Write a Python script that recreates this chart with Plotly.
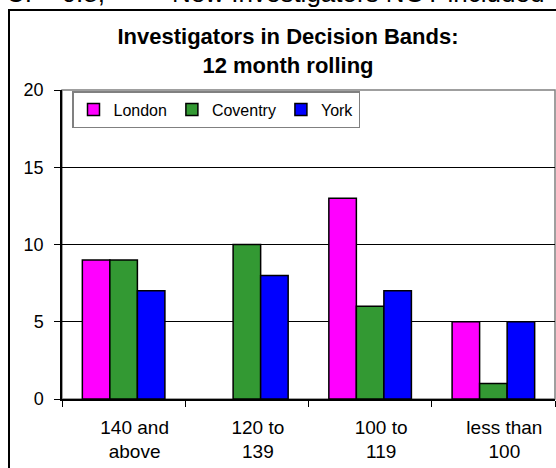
import plotly.graph_objects as go

categories = ["140 and<br>above", "120 to<br>139", "100 to<br>119", "less than<br>100"]
london = [9, None, 13, 5]
coventry = [9, 10, 6, 1]
york = [7, 8, 7, 5]

W, H = 556, 468
L, R, T, B = 62, 1, 90, 69
pw, ph = W - L - R, H - T - B

def px(x):
    return (x - L) / pw

def py(y):
    return (H - B - y) / ph

FONT = "Arial, Liberation Sans, sans-serif"

fig = go.Figure()
for name, vals, col in [("London", london, "#FF00FF"),
                        ("Coventry", coventry, "#339933"),
                        ("York", york, "#0000FF")]:
    fig.add_trace(go.Bar(x=categories, y=vals, name=name,
                         marker=dict(color=col, line=dict(color="black", width=1.5))))

fig.update_layout(
    width=W, height=H,
    margin=dict(l=L, r=R, t=T, b=B),
    paper_bgcolor="white", plot_bgcolor="white",
    barmode="group", bargap=0.33, bargroupgap=0,
    font=dict(family=FONT, color="black", size=16),
    title=dict(text="<b>Investigators in Decision Bands:<br>12 month rolling</b>",
               xref="container", x=288 / W, xanchor="center", y=1 - 44 / H, yanchor="top",
               font=dict(size=22, family=FONT)),
    legend=dict(orientation="h", x=px(72), y=py(91), xanchor="left", yanchor="top",
                bordercolor="#808080", borderwidth=1.5, bgcolor="white",
                font=dict(size=16, family=FONT), itemwidth=30),
    showlegend=True,
)
fig.update_xaxes(showline=True, linecolor="black", linewidth=1.5,
                 ticks="outside", ticklen=6, tickcolor="black", tickwidth=1,
                 tickson="boundaries", ticklabelshift=11, ticklabelstandoff=10,
                 tickfont=dict(size=19, family=FONT))
fig.update_yaxes(range=[0, 20], dtick=5, showline=True, linecolor="black", linewidth=1.5,
                 ticks="outside", ticklen=6, tickcolor="black", ticklabelstandoff=7,
                 showgrid=True, gridcolor="black", gridwidth=1,
                 tickfont=dict(size=18, family=FONT), zeroline=False)

# plot area border (gray) and outer frame
fig.add_shape(type="rect", xref="paper", yref="paper", x0=0, x1=1, y0=0, y1=1,
              line=dict(color="#808080", width=1.5), layer="below")
fig.add_shape(type="line", xref="paper", yref="paper", x0=px(9), x1=px(9), y0=py(10), y1=py(470),
              line=dict(color="black", width=2))
fig.add_shape(type="line", xref="paper", yref="paper", x0=px(8), x1=px(560), y0=py(10), y1=py(10),
              line=dict(color="black", width=2))

fig.add_annotation(text="CI = 0.8;",
                   xref="paper", yref="paper", x=px(4), y=py(10), xanchor="left", yanchor="bottom",
                   showarrow=False, font=dict(size=26, family=FONT, color="black"))
fig.add_annotation(text="New Investigators NOT included",
                   xref="paper", yref="paper", x=px(546), y=py(10), xanchor="right", yanchor="bottom",
                   showarrow=False, font=dict(size=26, family=FONT, color="black"))

fig.write_html("out.html")
